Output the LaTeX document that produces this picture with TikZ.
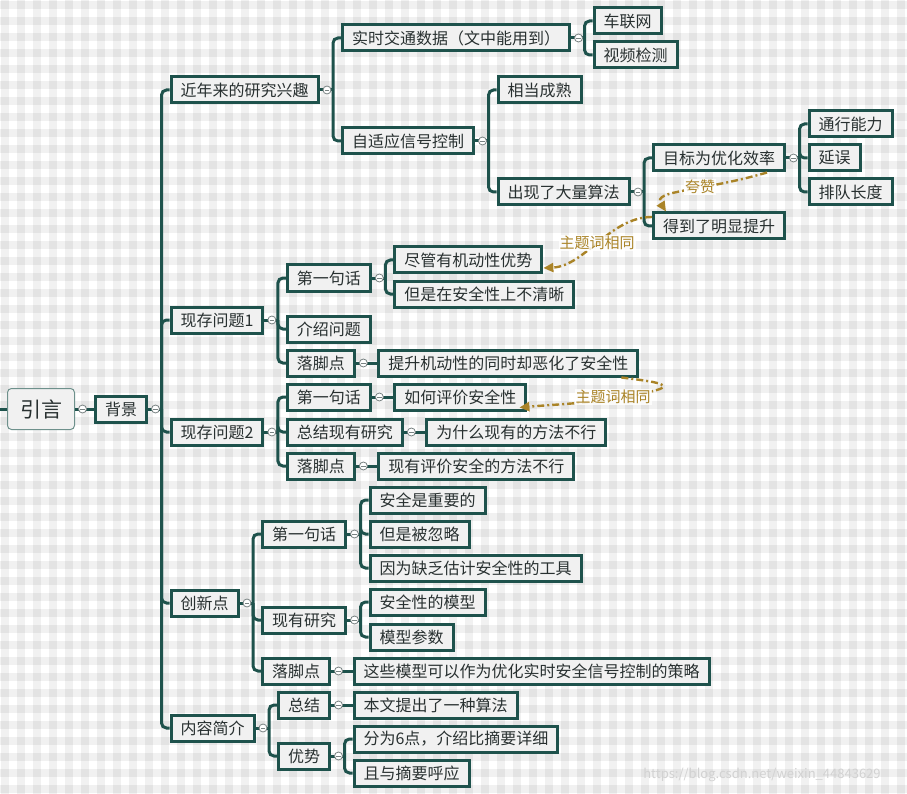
\documentclass[tikz,border=0pt]{standalone}
\usepackage{fontspec}
\setmainfont{Noto Sans CJK SC}
\usetikzlibrary{arrows.meta,calc}
\definecolor{pine}{RGB}{30,82,76}
\definecolor{sage}{RGB}{110,145,140}
\definecolor{boxgray}{RGB}{241,241,241}
\definecolor{ink}{RGB}{40,48,48}
\definecolor{ochre}{RGB}{170,132,40}
\definecolor{knob}{RGB}{120,130,130}

\tikzset{
  topic/.style={draw=pine, line width=3pt, fill=boxgray, text=ink,
    font=\fontsize{16}{19}\selectfont, inner xsep=9.5pt, inner ysep=2pt,
    minimum height=26pt, anchor=west},
  rootbox/.style={draw=sage, line width=1pt, fill=boxgray, rounded corners=4pt,
    text=ink, font=\fontsize{21}{24}\selectfont, minimum width=67pt, minimum height=41pt},
  branch/.style={draw=pine, line width=3pt, rounded corners=5pt},
  fold/.style={circle, draw=knob, fill=white, line width=0.8pt, minimum size=8pt, inner sep=0pt,
    path picture={\draw[knob, line width=0.8pt]
      ([xshift=-2.2pt]path picture bounding box.center) -- ([xshift=2.2pt]path picture bounding box.center);}},
  relation/.style={draw=ochre, line width=2.4pt, dash pattern=on 7pt off 3pt on 2pt off 3pt,
    -{Triangle[length=10pt,width=9pt]}},
  relnote/.style={text=ochre, font=\fontsize{15}{18}\selectfont, fill=white, fill opacity=0.8,
    text opacity=1, inner sep=1pt},
}

\begin{document}
\begin{tikzpicture}[x=1pt, y=-1pt]

    % Canvas with plaid background
    \useasboundingbox (0,0) rectangle (907,794);
    \fill[white] (0,0) rectangle (907,794);
    \foreach \i in {0,...,56} {
        \fill[black, opacity=0.055] (\i*16+1,0) rectangle ++(8,794);
    }
    \foreach \j in {0,...,49} {
        \fill[black, opacity=0.055] (0,\j*16+1) rectangle ++(907,8);
    }

    % Central topic
    \node[rootbox] (root) at (41,409) {引言};
    \coordinate (edge) at (0,409);
    \draw[branch] (edge) -- (root.west);
    \node[topic] (bg) at ($(root.east)+(19,0)$) {背景};

    % Topics: parent / name / y / text
    \foreach \p/\c/\y/\t in {
        bg/interest/90/近年来的研究兴趣, bg/prob1/320/现存问题1, bg/prob2/432/现存问题2,
        bg/innov/603/创新点, bg/summ/728/内容简介,
        interest/data/38/实时交通数据（文中能用到）, interest/adapt/141/自适应信号控制,
        data/v2x/21/车联网, data/video/55/视频检测,
        adapt/mature/90/相当成熟, adapt/algo/192/出现了大量算法,
        algo/goal/158/目标为优化效率, algo/gain/226/得到了明显提升,
        goal/cap/124/通行能力, goal/delay/158/延误, goal/queue/192/排队长度,
        prob1/first1/278/第一句话, prob1/intro/329/介绍问题, prob1/foot1/363/落脚点,
        first1/adv/260/尽管有机动性优势, first1/unclear/294/但是在安全性上不清晰,
        foot1/harm/363/提升机动性的同时却恶化了安全性,
        prob2/first2/397/第一句话, prob2/review/432/总结现有研究, prob2/foot2/466/落脚点,
        first2/how/397/如何评价安全性, review/why/432/为什么现有的方法不行,
        foot2/fail/466/现有评价安全的方法不行,
        innov/first3/534/第一句话, innov/exist/620/现有研究, innov/foot3/671/落脚点,
        first3/important/500/安全是重要的, first3/ignored/534/但是被忽略,
        first3/lack/568/因为缺乏估计安全性的工具,
        exist/model/602/安全性的模型, exist/param/637/模型参数,
        foot3/strategy/671/这些模型可以作为优化实时安全信号控制的策略,
        summ/sumup/705/总结, summ/merit/756/优势,
        sumup/algo2/705/本文提出了一种算法,
        merit/six/739/分为6点，介绍比摘要详细, merit/echo/773/且与摘要呼应
    } {
        \path ($(\p.east)+(21.5,0)$) coordinate (\c-x);
        \coordinate (\c-y) at (0,\y);
        \node[topic] (\c) at (\c-x |- \c-y) {\t};
    }

    % Branching topics
    \foreach \p/\cs in {bg/{interest,prob1,prob2,innov,summ},
        interest/{data,adapt}, data/{v2x,video}, adapt/{mature,algo}, algo/{goal,gain},
        goal/{cap,delay,queue}, prob1/{first1,intro,foot1}, first1/{adv,unclear},
        prob2/{first2,review,foot2}, innov/{first3,exist,foot3},
        first3/{important,ignored,lack}, exist/{model,param}, summ/{sumup,merit},
        merit/{six,echo}} {
        \coordinate (\p-j) at ($(\p.east)+(13.5,0)$);
        \draw[branch] (\p.east) -- (\p-j);
        \foreach \c in \cs
            \draw[branch] (\p-j) |- (\c.west);
        \node[fold] (\p-fold) at ($(\p.east)+(7.5,0)$) {};
    }

    % Single child topics
    \foreach \p/\c in {root/bg, foot1/harm, first2/how, review/why, foot2/fail,
        foot3/strategy, sumup/algo2} {
        \draw[branch] (\p.east) -- (\c.west);
        \node[fold] (\p-fold) at ($(\p.east)+(7.5,0)$) {};
    }

    % Relations
    \draw[relation] ([xshift=-19pt]goal.south east) .. controls (700,192) and (652,190) .. ([xshift=14pt]gain.north west);
    \node[relnote] (praise) at (700,187) {夸赞};

    \draw[relation] ([yshift=9pt]gain.west) .. controls (610,217) and (585,266) .. ([yshift=-8pt]adv.east);
    \node[relnote] (same1) at (597,243) {主题词相同};

    \draw[relation] ([xshift=-18pt]harm.south east) .. controls (650,381) and (672,384) .. (660,389)
        .. controls (620,402) and (560,404) .. ([xshift=-8pt,yshift=4pt]how.south east);
    \node[relnote] (same2) at (613,397) {主题词相同};

    % Watermark
    \node[text=gray!35, font=\fontsize{13}{15}\selectfont] (mark) at (762,775) {https://blog.csdn.net/weixin\_44843629};

\end{tikzpicture}
\end{document}
